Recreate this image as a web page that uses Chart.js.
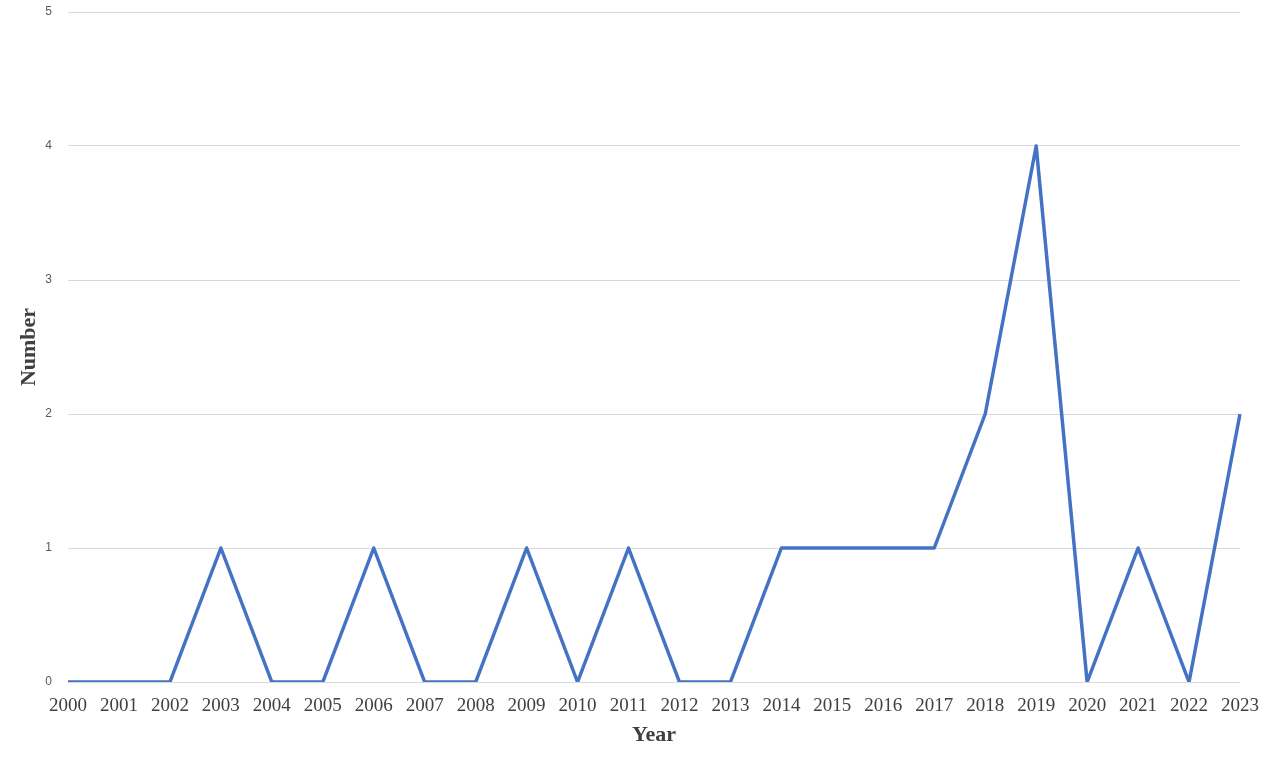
<!DOCTYPE html>
<html>
<head>
<meta charset="utf-8">
<script src="https://cdn.jsdelivr.net/npm/chart.js@4/dist/chart.umd.min.js"></script>
<style>
  html, body { margin: 0; padding: 0; background: #fff; }
  #wrap { width: 1280px; height: 768px; position: relative; }
</style>
</head>
<body>
<div id="wrap"><canvas id="lineChart"></canvas></div>
<script>
// data
const years = ['2000', '2001', '2002', '2003', '2004', '2005', '2006', '2007', '2008', '2009', '2010', '2011',
  '2012', '2013', '2014', '2015', '2016', '2017', '2018', '2019', '2020', '2021', '2022', '2023'];
const counts = [0, 0, 0, 1, 0, 0, 1, 0, 0, 1, 0, 1, 0, 0, 1, 1, 1, 1, 2, 4, 0, 1, 0, 2];
const yTicks = [0, 1, 2, 3, 4, 5];

const ctx = document.getElementById('lineChart');

new Chart(ctx, {
  type: 'line',
  data: {
    labels: years,
    datasets: [{
      label: 'Number',
      data: counts,
      borderColor: '#4472C4',
      borderWidth: 3.5,
      borderJoinStyle: 'round',
      pointRadius: 0,
      tension: 0,
      fill: false
    }]
  },
  options: {
    responsive: true,
    maintainAspectRatio: false,
    animation: false,
    layout: {
      padding: { left: 12, right: 40, top: 12, bottom: 15 }
    },
    plugins: {
      legend: { display: false },
      tooltip: { enabled: false }
    },
    scales: {
      x: {
        offset: false,
        grid: { display: false, drawTicks: false },
        border: { display: false },
        ticks: {
          padding: 13,
          maxRotation: 0,
          autoSkip: false,
          color: '#404040',
          font: { family: '"Liberation Serif", "DejaVu Serif", serif', size: 19 }
        },
        title: {
          display: true,
          text: 'Year',
          color: '#404040',
          font: { family: '"Liberation Serif", "DejaVu Serif", serif', size: 22, weight: 'bold' },
          padding: 4
        },
        afterFit: scale => { scale.height = 71; }
      },
      y: {
        min: yTicks[0],
        max: yTicks[yTicks.length - 1],
        afterBuildTicks: scale => { scale.ticks = yTicks.map(v => ({ value: v })); },
        // tick marks are invisible, they only push the labels away from the plot
        grid: { color: '#d9d9d9', lineWidth: 1, drawTicks: true, tickLength: 16, tickColor: 'rgba(0,0,0,0)' },
        border: { display: false },
        ticks: {
          padding: 0,
          color: '#595959',
          font: { family: '"Liberation Sans", Arial, sans-serif', size: 12 }
        },
        title: {
          display: true,
          text: 'Number',
          color: '#404040',
          font: { family: '"Liberation Serif", "DejaVu Serif", serif', size: 22, weight: 'bold' },
          padding: 4
        },
        afterFit: scale => { scale.width = 56; }
      }
    }
  }
});
</script>
</body>
</html>
